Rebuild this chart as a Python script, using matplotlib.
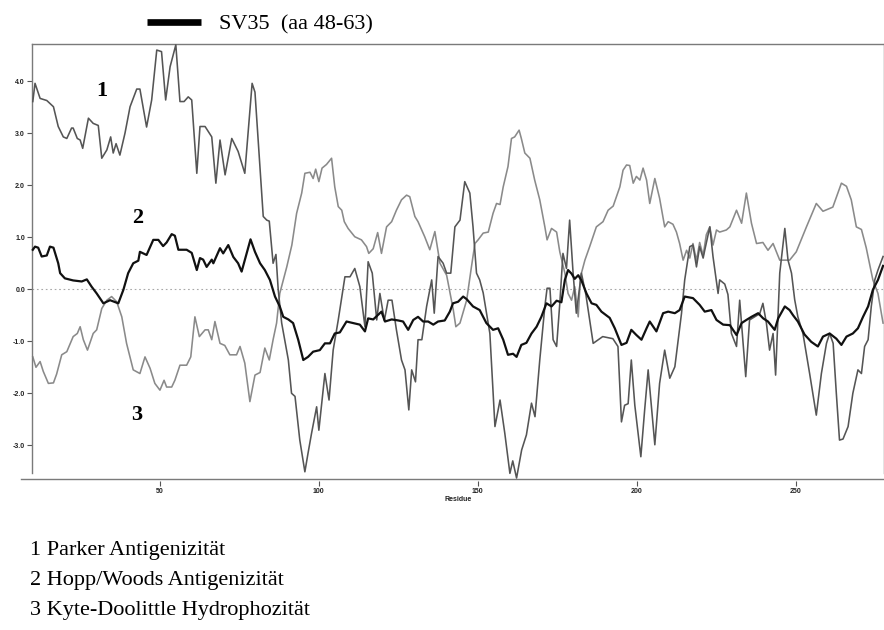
import matplotlib
matplotlib.use("Agg")
import matplotlib.pyplot as plt
from matplotlib.lines import Line2D

# Parker antigenicity profile (residue, score)
parker_res = [10, 10.7, 12.3, 14.4, 16.5, 18.0, 19.6, 20.7, 22.2, 22.7, 24.0, 24.9, 25.7,
              27.5, 29.0, 30.6, 31.7, 33.3, 34.5, 35.3, 36.2, 37.4, 39.0, 40.6, 42.7,
              43.7, 45.8, 47.4, 49.0, 50.5, 51.8, 53.2, 55.0, 56.3, 57.6, 58.9, 60.0,
              61.6, 62.6, 64.2, 66.3, 67.6, 68.9, 70.5, 72.6, 74.6, 76.7, 79.0, 79.9,
              82.5, 83.6, 84.4, 85.6, 86.5, 87.2, 88.3, 90.4, 91.4, 92.5, 94.0, 95.6,
              96.6, 97.7, 99.3, 100.0, 101.9, 103.2, 104.5, 106.1, 108.2, 109.8, 111.3,
              112.9, 114.5, 115.5, 116.8, 118.2, 119.2, 120.6, 121.8, 123.0, 124.4,
              126.0, 127.1, 128.3, 129.2, 130.4, 131.2, 132.4, 133.9, 135.5, 136.3,
              137.5, 139.1, 140.2, 141.5, 142.8, 144.4, 145.9, 147.5, 148.5, 149.6,
              150.6, 151.7, 153.8, 155.4, 157.0, 158.5, 160.1, 161.0, 162.2, 163.8,
              165.3, 166.9, 168.0, 169.5, 171.1, 171.8, 172.7, 173.7, 174.8, 175.8,
              176.8, 177.9, 178.9, 180.0, 181.0, 182.6, 184.0, 186.3, 189.3, 192.5,
              194.1, 195.2, 196.2, 197.3, 198.3, 199.4, 201.3, 202.5, 203.6, 205.7,
              207.2, 208.8, 210.4, 212.0, 214.1, 215.1, 216.7, 217.7, 218.8, 219.8,
              220.9, 221.4, 223.0, 224.0, 225.6, 226.1, 227.7, 228.7, 229.8, 231.4,
              232.4, 233.4, 234.3, 235.5, 237.1, 238.7, 239.7, 240.8, 241.8, 242.9,
              243.7, 245.0, 246.6, 247.6, 248.7, 249.7, 250.7, 252.3, 254.4, 256.5,
              258.1, 259.7, 260.7, 261.8, 262.8, 263.8, 264.9, 266.5, 268.0, 269.6,
              270.7, 271.7, 272.8, 273.8, 274.9, 275.9, 277.5]
parker_val = [3.61, 3.96, 3.67, 3.63, 3.51, 3.13, 2.93, 2.90, 3.10, 3.10, 2.90, 2.87, 2.71,
              3.29, 3.19, 3.15, 2.52, 2.68, 2.93, 2.62, 2.80, 2.58, 3.00, 3.51, 3.85,
              3.85, 3.12, 3.64, 4.60, 4.57, 3.64, 4.28, 4.70, 3.61, 3.61, 3.70, 3.64,
              2.23, 3.13, 3.13, 2.93, 2.04, 2.87, 2.20, 2.90, 2.65, 2.23, 3.96, 3.79,
              1.40, 1.33, 1.31, 0.50, 0.67, 0.00, -0.65, -1.36, -2.00, -2.06, -2.90, -3.51,
              -3.15, -2.77, -2.26, -2.71, -1.62, -2.13, -1.17, -0.59, 0.24, 0.24, 0.40,
              0.05, -0.72, 0.53, 0.31, -0.59, -0.08, -0.60, -0.21, -0.21, -0.78,
              -1.36, -1.55, -2.32, -1.55, -1.78, -0.97, -0.97, -0.33, 0.18, -0.46,
              0.63, 0.50, 0.31, 0.31, 1.20, 1.33, 2.07, 1.85, 1.20, 0.31,
              0.18, -0.07, -0.85, -2.64, -2.13, -2.77, -3.54, -3.30, -3.63, -3.09,
              -2.80, -2.19, -2.45, -1.36, -0.33, 0.02, 0.02, -0.97, -1.10, -0.27,
              0.69, 0.40, 1.33, 0.30, -0.46, 0.31, -0.10, -1.04, -0.91, -0.95,
              -1.10, -2.55, -2.23, -2.20, -1.36, -2.23, -3.22, -2.32, -1.55, -2.99,
              -1.81, -1.17, -1.71, -1.49, -0.46, 0.18, 0.82, 0.85, 0.43, 0.82,
              0.60, 0.75, 1.20, 0.63, -0.08, 0.18, 0.10, -0.10, -0.85, -1.10,
              -0.21, -0.97, -1.68, -0.59, -0.53, -0.47, -0.27, -0.65, -1.17, -0.85,
              -1.65, 0.31, 1.17, 0.56, 0.31, -0.20, -0.53, -0.85, -1.62, -2.42,
              -1.62, -1.04, -0.85, -1.04, -2.00, -2.90, -2.88, -2.64, -2.00, -1.55,
              -1.62, -1.10, -0.97, -0.33, 0.18, 0.37, 0.63]

# Hopp/Woods antigenicity profile
hopp_res = [10, 10.7, 11.7, 12.8, 14.4, 15.4, 16.5, 18.0, 18.6, 20.1, 22.7, 25.4, 27.0,
            28.5, 30.1, 32.2, 34.3, 36.9, 38.5, 40.0, 41.6, 43.2, 43.7, 45.8, 47.9,
            49.5, 51.0, 52.1, 53.7, 54.7, 55.8, 58.4, 60.0, 61.6, 62.6, 63.6, 64.7,
            66.3, 66.8, 68.9, 69.9, 71.5, 73.1, 74.6, 75.7, 77.3, 78.5, 79.9, 81.5,
            83.0, 84.6, 86.2, 87.7, 88.8, 90.4, 91.9, 93.5, 95.1, 96.6, 98.2, 100.3,
            101.9, 103.5, 105.0, 106.6, 108.7, 110.8, 112.9, 114.5, 115.5, 117.1,
            119.7, 120.8, 122.9, 125.0, 126.5, 128.1, 129.7, 131.2, 132.8, 134.4,
            136.0, 137.5, 139.6, 141.2, 142.2, 143.8, 145.4, 146.5, 148.5, 150.6,
            152.7, 154.8, 156.4, 158.0, 159.5, 161.1, 162.2, 163.7, 165.3, 166.9,
            168.5, 170.0, 171.6, 173.2, 174.8, 176.3, 177.4, 178.4, 179.5, 180.5,
            181.6, 182.6, 184.2, 185.8, 187.3, 188.9, 191.5, 193.1, 195.2, 196.8,
            198.3, 199.9, 201.5, 203.1, 204.1, 206.2, 208.3, 209.9, 212.0, 213.5,
            215.1, 217.7, 219.8, 221.4, 223.5, 225.1, 227.2, 229.3, 231.4, 233.0,
            234.5, 236.1, 238.2, 239.8, 241.3, 243.4, 244.5, 246.6, 248.1, 249.2,
            250.7, 252.8, 254.9, 257.0, 258.6, 260.7, 262.8, 264.4, 266.0, 268.0,
            269.6, 271.2, 272.8, 274.3, 275.9, 277.5]
hopp_val = [0.76, 0.82, 0.80, 0.63, 0.65, 0.82, 0.80, 0.50, 0.31, 0.21, 0.17, 0.15, 0.19,
            0.05, -0.08, -0.27, -0.21, -0.27, -0.01, 0.31, 0.50, 0.55, 0.72, 0.66, 0.95,
            0.95, 0.83, 0.90, 1.06, 1.03, 0.76, 0.76, 0.70, 0.37, 0.60, 0.57, 0.43,
            0.57, 0.50, 0.79, 0.69, 0.85, 0.62, 0.50, 0.34, 0.69, 0.96, 0.72, 0.50,
            0.37, 0.18, -0.14, -0.33, -0.53, -0.58, -0.65, -0.97, -1.36, -1.30, -1.20, -1.17,
            -1.04, -1.04, -0.85, -0.83, -0.62, -0.65, -0.68, -0.81, -0.56, -0.58,
            -0.43, -0.62, -0.58, -0.60, -0.62, -0.78, -0.59, -0.53, -0.62, -0.62,
            -0.68, -0.62, -0.60, -0.43, -0.27, -0.24, -0.14, -0.19, -0.33, -0.40,
            -0.65, -0.78, -0.75, -0.97, -1.26, -1.24, -1.30, -1.07, -1.03, -0.85,
            -0.72, -0.53, -0.27, -0.33, -0.22, -0.25, 0.18, 0.37, 0.30, 0.20,
            0.27, 0.17, -0.08, -0.27, -0.30, -0.43, -0.55, -0.75, -1.07, -1.03,
            -0.78, -0.88, -0.97, -0.75, -0.62, -0.81, -0.46, -0.43, -0.46, -0.40,
            -0.14, -0.17, -0.30, -0.43, -0.40, -0.59, -0.68, -0.69, -0.88, -0.65,
            -0.59, -0.53, -0.46, -0.56, -0.62, -0.78, -0.56, -0.33, -0.40, -0.50,
            -0.62, -0.87, -1.01, -1.10, -0.91, -0.85, -0.95, -1.07, -0.91, -0.85,
            -0.75, -0.53, -0.33, -0.01, 0.18, 0.45]

# Kyte-Doolittle hydropathy profile
kyte_res = [10, 11.0, 12.3, 13.3, 14.9, 16.5, 17.5, 19.1, 20.7, 22.7, 24.0, 24.9, 25.9,
            27.2, 29.0, 30.1, 31.7, 33.3, 34.8, 36.4, 38.0, 39.5, 41.6, 43.7, 45.3,
            46.9, 48.4, 50.0, 51.3, 52.1, 53.7, 54.7, 56.3, 58.4, 59.7, 61.0, 62.4,
            64.2, 65.2, 66.3, 67.3, 68.9, 70.4, 72.0, 74.1, 75.2, 76.7, 78.3, 79.9,
            81.5, 83.0, 84.4, 85.6, 86.7, 87.7, 89.9, 91.5, 93.0, 94.6, 95.6, 97.2,
            98.2, 99.0, 100.0, 101.0, 102.4, 104.0, 105.0, 106.1, 107.2, 108.0,
            109.2, 111.3, 113.4, 115.0, 115.7, 117.1, 118.5, 119.7, 121.3, 122.9,
            124.4, 126.0, 127.6, 128.6, 130.2, 131.2, 133.3, 134.9, 136.5, 138.1,
            140.2, 140.9, 142.3, 143.1, 144.4, 146.5, 148.0, 149.1, 150.1, 151.7,
            153.3, 154.8, 155.9, 157.0, 158.0, 159.5, 160.6, 161.6, 163.0, 163.7,
            164.8, 166.4, 167.9, 169.5, 171.1, 171.8, 173.2, 174.8, 175.8, 177.4,
            178.4, 179.5, 180.5, 181.6, 182.3, 183.7, 185.2, 187.3, 189.4, 191.0,
            192.6, 194.7, 195.7, 196.8, 197.8, 198.9, 199.9, 201.0, 202.0, 203.1,
            204.1, 205.7, 207.2, 208.8, 209.9, 211.4, 212.5, 213.5, 214.6, 215.7,
            216.7, 217.7, 218.8, 219.8, 220.9, 221.9, 223.0, 224.0, 225.1, 226.1,
            228.2, 229.3, 231.4, 233.0, 234.5, 236.1, 237.7, 239.7, 241.3, 242.9,
            245.0, 248.1, 250.2, 253.4, 256.5, 258.6, 261.7, 264.4, 266.0, 267.5,
            269.1, 270.7, 272.2, 274.3, 275.9, 277.5]
kyte_val = [-1.30, -1.50, -1.39, -1.58, -1.81, -1.80, -1.63, -1.26, -1.20, -0.91, -0.85, -0.72, -0.97,
            -1.17, -0.85, -0.78, -0.37, -0.21, -0.14, -0.24, -0.53, -1.04, -1.55, -1.62, -1.30,
            -1.52, -1.81, -1.94, -1.75, -1.88, -1.88, -1.75, -1.46, -1.46, -1.30, -0.53, -0.91,
            -0.78, -0.78, -0.97, -0.62, -1.04, -1.08, -1.26, -1.26, -1.10, -1.42, -2.16, -1.65,
            -1.60, -1.13, -1.36, -0.97, -0.65, -0.08, 0.43, 0.85, 1.46, 1.85, 2.23, 2.25,
            2.13, 2.31, 2.07, 2.33, 2.40, 2.52, 1.97, 1.59, 1.52, 1.30,
            1.17, 1.01, 0.95, 0.82, 0.69, 0.78, 1.09, 0.69, 1.20, 1.30,
            1.52, 1.72, 1.81, 1.78, 1.40, 1.30, 1.01, 0.76, 1.11, 0.50,
            0.27, 0.05, -0.40, -0.72, -0.65, -0.21, 0.43, 0.88, 0.95, 1.08,
            1.10, 1.46, 1.65, 1.63, 1.97, 2.36, 2.90, 2.93, 3.06, 2.90,
            2.62, 2.52, 2.10, 1.72, 1.20, 0.95, 1.17, 1.10, 0.72, 0.31,
            -0.08, -0.21, 0.05, -0.53, 0.24, 0.56, 0.82, 1.20, 1.30, 1.52,
            1.60, 1.97, 2.29, 2.39, 2.38, 2.04, 2.17, 2.10, 2.33, 2.10,
            1.65, 2.13, 1.75, 1.20, 1.30, 1.25, 1.10, 0.88, 0.56, 0.75,
            0.60, 0.88, 0.55, 0.90, 0.65, 1.05, 1.20, 0.85, 1.14, 1.10,
            1.14, 1.20, 1.52, 1.27, 1.85, 1.27, 0.88, 0.90, 0.75, 0.88,
            0.56, 0.56, 0.72, 1.20, 1.65, 1.50, 1.58, 2.04, 1.98, 1.72,
            1.20, 1.15, 0.80, 0.18, -0.08, -0.65]

ytick_vals = [-3.0, -2.0, -1.0, 0.0, 1.0, 2.0, 3.0, 4.0]
xtick_vals = [50, 100, 150, 200, 250]
legend_lines = ["1 Parker Antigenizität",
                "2 Hopp/Woods Antigenizität",
                "3 Kyte-Doolittle Hydrophozität"]

serif = ["Liberation Serif", "DejaVu Serif"]
W, H = 884, 630

fig = plt.figure(figsize=(8.84, 6.30), dpi=100)
ax = fig.add_axes([0.0362, 0.2497, 0.9638, 0.6805])

ax.plot(kyte_res, kyte_val, color="#8a8a8a", lw=1.15, clip_on=False, zorder=2)
ax.plot(parker_res, parker_val, color="#555555", lw=1.15, clip_on=False, zorder=3)
ax.plot(hopp_res, hopp_val, color="#111111", lw=1.6, clip_on=False, zorder=4)
ax.axhline(0, color="#a8a8a8", lw=0.8, ls=(0, (1.5, 2.5)), zorder=1)

ax.set_xlim(9.75, 277.8)
ax.set_ylim(-3.527, 4.717)

for side in ("left", "top", "right"):
    ax.spines[side].set_color("#7a7a7a")
    ax.spines[side].set_linewidth(1.0)
ax.spines["bottom"].set_position(("outward", 6))
ax.spines["bottom"].set_visible(False)

# residue axis line, running slightly past the left frame edge
fig.add_artist(Line2D([21 / W, 1.0], [1 - 479 / H, 1 - 479 / H],
                      color="#7a7a7a", lw=1.0))

ax.set_yticks(ytick_vals)
ax.set_yticklabels([f"{v:.1f}" for v in ytick_vals])
ax.set_xticks(xtick_vals)
ax.set_xticklabels([str(v) for v in xtick_vals])
ax.tick_params(axis="both", direction="out", length=3.5, width=0.8, color="#555555",
               labelsize=5, labelcolor="#222222", pad=1.5)
for lab in ax.get_xticklabels() + ax.get_yticklabels():
    lab.set_fontweight("bold")
    lab.set_family("Liberation Sans")
ax.set_xlabel("Residue", fontsize=5, fontweight="bold", family="Liberation Sans",
              color="#222222", labelpad=1)

# curve numbers
ax.text(31.6, 3.81, "1", fontsize=16, fontweight="bold", family=serif, ha="center", va="center")
ax.text(42.9, 1.38, "2", fontsize=16, fontweight="bold", family=serif, ha="center", va="center")
ax.text(42.8, -2.42, "3", fontsize=16, fontweight="bold", family=serif, ha="center", va="center")

# peptide marker above the plot
fig.add_artist(Line2D([147 / W, 201 / W], [1 - 21.7 / H, 1 - 21.7 / H],
                      color="black", lw=4.8, solid_capstyle="butt"))
fig.text(219 / W, 1 - 29.3 / H, "SV35  (aa 48-63)", fontsize=16, family=serif,
         ha="left", va="baseline")

# key below the plot
for i, line in enumerate(legend_lines):
    fig.text(30 / W, 1 - (555 + 30 * i) / H, line, fontsize=16, family=serif,
             ha="left", va="baseline")

fig.savefig("out.png", dpi=100)
